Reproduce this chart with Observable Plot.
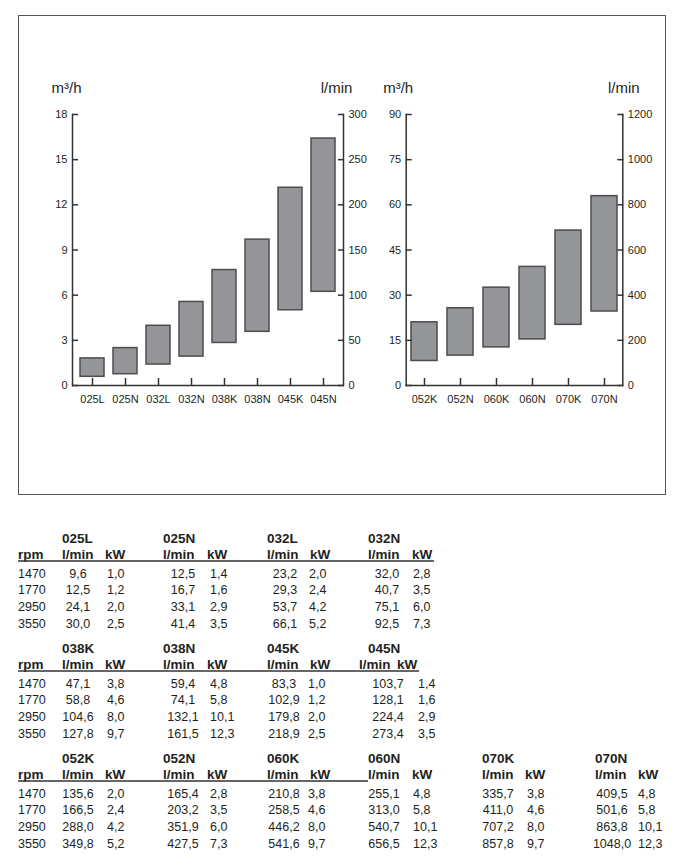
<!DOCTYPE html>
<html><head><meta charset="utf-8">
<script src="https://cdn.jsdelivr.net/npm/d3@7"></script>
<script src="https://cdn.jsdelivr.net/npm/@observablehq/plot@0.6"></script>
<style>
body{margin:0;background:#fff;font-family:"Liberation Sans",Arial,sans-serif;color:#231f20}
#page{position:relative;width:684px;height:860px;overflow:hidden}
#box{position:absolute;left:18px;top:15px;width:648px;height:480px;border:1px solid #555;box-sizing:border-box}
#c1{position:absolute;left:0;top:0}
#c2{position:absolute;left:370px;top:0}
#tbl{position:absolute;left:0;top:500px}
</style></head>
<body><div id="page"><div id="box"></div><div id="c1"></div><div id="c2"></div><div id="tbl"></div></div>
<script>
// ---- data ----
const rpm = [1470, 1770, 2950, 3550];
const leftModels = ["025L","025N","032L","032N","038K","038N","045K","045N"];
const rightModels = ["052K","052N","060K","060N","070K","070N"];
const lmin = {
  "025L": [9.6, 12.5, 24.1, 30.0],
  "025N": [12.5, 16.7, 33.1, 41.4],
  "032L": [23.2, 29.3, 53.7, 66.1],
  "032N": [32.0, 40.7, 75.1, 92.5],
  "038K": [47.1, 58.8, 104.6, 127.8],
  "038N": [59.4, 74.1, 132.1, 161.5],
  "045K": [83.3, 102.9, 179.8, 218.9],
  "045N": [103.7, 128.1, 224.4, 273.4],
  "052K": [135.6, 166.5, 288.0, 349.8],
  "052N": [165.4, 203.2, 351.9, 427.5],
  "060K": [210.8, 258.5, 446.2, 541.6],
  "060N": [255.1, 313.0, 540.7, 656.5],
  "070K": [335.7, 411.0, 707.2, 857.8],
  "070N": [409.5, 501.6, 863.8, 1048.0]
};
const kW = {
  "025L": [1.0, 1.2, 2.0, 2.5],
  "025N": [1.4, 1.6, 2.9, 3.5],
  "032L": [2.0, 2.4, 4.2, 5.2],
  "032N": [2.8, 3.5, 6.0, 7.3],
  "038K": [3.8, 4.6, 8.0, 9.7],
  "038N": [4.8, 5.8, 10.1, 12.3],
  "045K": [1.0, 1.2, 2.0, 2.5],
  "045N": [1.4, 1.6, 2.9, 3.5],
  "052K": [2.0, 2.4, 4.2, 5.2],
  "052N": [2.8, 3.5, 6.0, 7.3],
  "060K": [3.8, 4.6, 8.0, 9.7],
  "060N": [4.8, 5.8, 10.1, 12.3],
  "070K": [3.8, 4.6, 8.0, 9.7],
  "070N": [4.8, 5.8, 10.1, 12.3]
};
const leftTicksM3h = [0, 3, 6, 9, 12, 15, 18];
const leftTicksLmin = [0, 50, 100, 150, 200, 250, 300];
const rightTicksM3h = [0, 15, 30, 45, 60, 75, 90];
const rightTicksLmin = [0, 200, 400, 600, 800, 1000, 1200];
const LMIN_TO_M3H = 0.06;

const font = '"Liberation Sans", Arial, sans-serif';
const ink = "#231f20";

function chart(models, ticksM3h, ticksLmin, cfg) {
  const yMax = ticksM3h[ticksM3h.length - 1];
  const lMax = ticksLmin[ticksLmin.length - 1];
  const bars = models.map(m => ({model: m, lo: d3.min(lmin[m]) * LMIN_TO_M3H, hi: d3.max(lmin[m]) * LMIN_TO_M3H}));
  return Plot.plot({
    width: cfg.width, height: 420,
    marginLeft: cfg.mL, marginRight: cfg.mR, marginTop: 114, marginBottom: 35,
    style: {background: "transparent", fontFamily: font, fontSize: "11px", color: ink},
    x: {type: "band", domain: models, paddingInner: cfg.pi, paddingOuter: cfg.po, label: null},
    y: {domain: [0, yMax], label: null},
    marks: [
      Plot.barY(bars, {x: "model", y1: "lo", y2: "hi", fill: "#939598", stroke: "#4d4d4f", strokeWidth: 1.5}),
      Plot.ruleY([0], {stroke: "#333", strokeWidth: 1.5}),
      Plot.frame({anchor: "left", stroke: "#333", strokeWidth: 1.5}),
      Plot.frame({anchor: "right", stroke: "#333", strokeWidth: 1.5}),
      Plot.axisX({tickSize: -7, tickPadding: 17, stroke: "#333", strokeWidth: 1.5, label: null, fill: ink}),
      Plot.axisY(ticksM3h, {anchor: "left", tickSize: -6, tickPadding: 11, stroke: "#333", strokeWidth: 1.5, label: null, fill: ink}),
      Plot.axisY(ticksLmin.map(v => v / lMax * yMax), {anchor: "right", tickSize: -6, tickPadding: 11, stroke: "#333", strokeWidth: 1.5, label: null, fill: ink,
        tickFormat: d => String(Math.round(d / yMax * lMax))}),
      Plot.text(["m³/h"], {frameAnchor: "top-left", text: d => d, textAnchor: "middle", lineAnchor: "bottom", dx: cfg.t1dx, dy: -21.5, fontSize: 15, fill: ink}),
      Plot.text(["l/min"], {frameAnchor: "top-right", text: d => d, textAnchor: "middle", lineAnchor: "bottom", dx: cfg.t2dx, dy: -21.5, fontSize: 15, fill: ink})
    ]
  });
}

document.getElementById("c1").appendChild(chart(leftModels, leftTicksM3h, leftTicksLmin,
  {width: 370, mL: 72, mR: 27, pi: 0.265, po: 0.12, t1dx: -6, t2dx: -7}));
document.getElementById("c2").appendChild(chart(rightModels, rightTicksM3h, rightTicksLmin,
  {width: 314, mL: 35.7, mR: 61.7, pi: 0.28, po: 0.145, t1dx: -8, t2dx: 1}));

// ---- tables ----
const sections = [
  {models: ["025L","025N","032L","032N"], lineEnd: 434,
   cols: [{h:62,lh:62,v:78,kh:105,kv:107},{h:163,lh:163,v:183,kh:207,kv:210},{h:267,lh:267,v:285,kh:310,kv:309},{h:368,lh:368,v:387,kh:412,kv:413}]},
  {models: ["038K","038N","045K","045N"], lineEnd: 419,
   cols: [{h:62,lh:62,v:78,kh:105,kv:107},{h:163,lh:163,v:183,kh:207,kv:210},{h:267,lh:267,v:284,kh:310,kv:308},{h:368,lh:359,v:388,kh:397,kv:418}]},
  {models: ["052K","052N","060K","060N","070K","070N"], lineEnd: 368,
   cols: [{h:62,lh:62,v:78,kh:105,kv:107},{h:163,lh:163,v:183,kh:207,kv:210},{h:267,lh:267,v:284,kh:310,kv:308},{h:368,lh:368,v:384,kh:412,kv:413},{h:482,lh:482,v:498,kh:525,kv:527},{h:595,lh:595,v:612,kh:638,kv:638}]}
];
const fmt = v => v.toFixed(1).replace(".", ",");
const tsvg = d3.select("#tbl").append("svg").attr("width", 684).attr("height", 360)
  .style("font-family", font).style("fill", ink);
sections.forEach((s, si) => {
  const g = tsvg.append("g").attr("transform", `translate(0,${si * 110})`);
  g.append("text").attr("x", 18).attr("y", 58.5).attr("font-weight", "bold").attr("font-size", 13.5).text("rpm");
  g.append("line").attr("x1", 18).attr("x2", s.lineEnd).attr("y1", 61).attr("y2", 61).attr("stroke", "#333").attr("stroke-width", 1.5);
  rpm.forEach((r, i) => g.append("text").attr("x", 18).attr("y", 77.5 + 16.7 * i).attr("font-size", 12.5).text(r));
  s.models.forEach((m, mi) => {
    const c = s.cols[mi];
    g.append("text").attr("x", c.h).attr("y", 43).attr("font-weight", "bold").attr("font-size", 13.5).text(m);
    g.append("text").attr("x", c.lh).attr("y", 58.5).attr("font-weight", "bold").attr("font-size", 13.5).text("l/min");
    g.append("text").attr("x", c.kh).attr("y", 58.5).attr("font-weight", "bold").attr("font-size", 13.5).text("kW");
    lmin[m].forEach((v, i) => g.append("text").attr("x", c.v).attr("y", 77.5 + 16.7 * i).attr("font-size", 12.5).attr("text-anchor", "middle").text(fmt(v)));
    kW[m].forEach((v, i) => g.append("text").attr("x", c.kv).attr("y", 77.5 + 16.7 * i).attr("font-size", 12.5).text(fmt(v)));
  });
});
</script></body></html>
